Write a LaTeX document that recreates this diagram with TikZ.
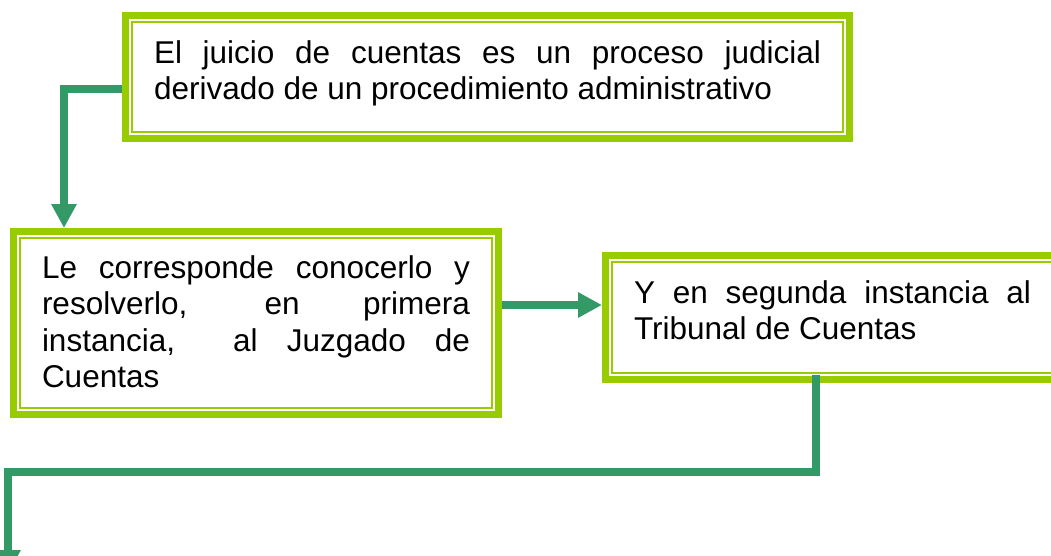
\documentclass[tikz,border=0pt]{standalone}
\usepackage{fontspec}
\setmainfont{Liberation Sans}
\usetikzlibrary{arrows.meta,fit,positioning}
\definecolor{verdelima}{HTML}{99CC00}
\definecolor{verdemar}{HTML}{339966}

\begin{document}
\begin{tikzpicture}[x=1pt,y=1pt,
    cuadro/.style={draw=verdelima,line width=2pt,outer sep=0pt,inner xsep=22pt,inner ysep=0pt,
      align=justify,anchor=north west,text height=41pt,font=\fontsize{31.5}{36.5}\selectfont},
    marco/.style={draw=verdelima,line width=7pt,inner sep=6.5pt},
    enlace/.style={draw=verdemar,line width=8pt,-{Triangle[width=24pt,length=24pt]}}]
    \useasboundingbox (0,0) rectangle (1051,-555);
    \clip (0,0) rectangle (1051,-555);

    \node[cuadro,text width=667pt,text depth=68.5pt] (juicio) at (132,-22)
        {El juicio de cuentas es un proceso judicial\linebreak derivado de un procedimiento administrativo};
    \node[cuadro,text width=428pt,text height=40pt,text depth=130pt] (primera)
        at ([xshift=-112pt,yshift=-106.5pt]juicio.south west)
        {Le corresponde conocerlo y\linebreak resolverlo, en primera\linebreak instancia,\ \ al Juzgado de\linebreak Cuentas};
    \node[cuadro,text width=397pt,text depth=70pt] (segunda)
        at ([xshift=120pt,yshift=-24pt]primera.north east)
        {Y en segunda instancia al\linebreak Tribunal de Cuentas};

    \node[marco,fit=(juicio)] (juiciomarco) {};
    \node[marco,fit=(primera)] (primeramarco) {};
    \node[marco,fit=(segunda)] (segundamarco) {};

    \coordinate (a2) at ([yshift=18pt]primeramarco.east);
    \coordinate (a3) at ([xshift=214pt,yshift=8pt]segundamarco.south west);
    \coordinate (codo) at (8,-472);
    \coordinate (fin) at (8,-574);

    \draw[enlace] ([yshift=-12.5pt]juiciomarco.west) -| ([xshift=54pt]primeramarco.north west);
    \draw[enlace] (a2) -- (a2 -| segundamarco.west);
    \draw[enlace] (a3) |- (codo) -- (fin);
\end{tikzpicture}
\end{document}
